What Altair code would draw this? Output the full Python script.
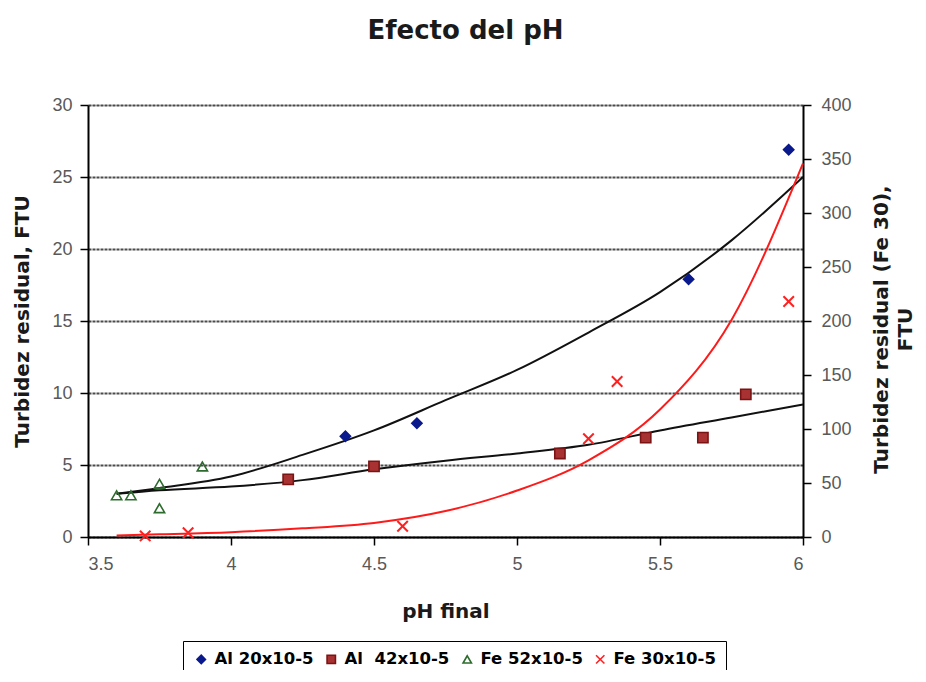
import altair as alt
import pandas as pd

# ---- data ----
series_names = ["Al 20x10-5", "Al\u00a0 42x10-5", "Fe 52x10-5", "Fe 30x10-5"]

al20_ph = [4.4, 4.65, 5.6, 5.95]
al20_val = [7.0, 7.9, 17.9, 26.9]

al42_ph = [4.2, 4.5, 5.15, 5.45, 5.65, 5.8]
al42_val = [4.0, 4.9, 5.8, 6.9, 6.9, 9.9]

fe52_ph = [3.6, 3.65, 3.75, 3.75, 3.9]
fe52_val = [2.9, 2.9, 3.7, 2.0, 4.9]

fe30_ph = [3.7, 3.85, 4.6, 5.25, 5.35, 5.95]
fe30_val = [1, 4, 10, 91, 144, 218]

# trend lines
trend_ph = [3.6, 3.75, 4.0, 4.25, 4.5, 4.75, 5.0, 5.25, 5.5, 5.75, 6.0]
trend_upper = [3.0, 3.4, 4.2, 5.7, 7.4, 9.5, 11.6, 14.2, 17.0, 20.6, 25.0]
trend_lower = [3.0, 3.25, 3.5, 3.95, 4.7, 5.3, 5.8, 6.4, 7.4, 8.3, 9.2]
trend_red = [1.5, 2.5, 4.5, 8, 13, 24, 43, 71, 118, 201, 346]

x_ticks = [3.5, 4, 4.5, 5, 5.5, 6]
left_ticks = [0, 5, 10, 15, 20, 25, 30]
right_ticks = [0, 50, 100, 150, 200, 250, 300, 350, 400]

# ---- tables ----
left_pts = pd.DataFrame({
    "ph": al20_ph + al42_ph + fe52_ph,
    "val": al20_val + al42_val + fe52_val,
    "series": [series_names[0]] * len(al20_ph)
    + [series_names[1]] * len(al42_ph)
    + [series_names[2]] * len(fe52_ph),
})
right_pts = pd.DataFrame({"ph": fe30_ph, "val": fe30_val,
                          "series": [series_names[3]] * len(fe30_ph)})
left_lines = pd.DataFrame({
    "ph": trend_ph + trend_ph,
    "val": trend_upper + trend_lower,
    "line": ["upper"] * len(trend_ph) + ["lower"] * len(trend_ph),
})
right_line = pd.DataFrame({"ph": trend_ph, "val": trend_red})

# ---- styles ----
LABEL_FONT = "Liberation Sans"
TITLE_FONT = "DejaVu Sans"

x_enc = alt.X(
    "ph:Q",
    scale=alt.Scale(domain=[3.5, 6], nice=False, zero=False),
    axis=alt.Axis(
        values=x_ticks, labelExpr="'' + datum.value", title="pH final",
        grid=False, domainColor="black", domainWidth=2,
        tickColor="black", tickWidth=1.5, tickSize=8, labelPadding=10,
        labelFont=LABEL_FONT, labelFontSize=18, labelColor="#595959",
        titleFont=TITLE_FONT, titleFontSize=20, titleFontWeight="bold",
        titleColor="#1a1a1a", titleY=80, titleBaseline="alphabetic",
    ),
)

left_axis = alt.Axis(
    orient="left", values=left_ticks, title="Turbidez residual, FTU",
    grid=True, gridColor="#4a4a4a", gridWidth=2, gridDash=[3, 1],
    domainColor="black", domainWidth=2, tickColor="black", tickWidth=1.5,
    tickSize=8, labelPadding=8, labelFont=LABEL_FONT, labelFontSize=18,
    labelColor="#595959", titleFont=TITLE_FONT, titleFontSize=20,
    titleFontWeight="bold", titleColor="#1a1a1a", titleAngle=270,
    titleX=-66, titleY=216, titleAlign="center", titleBaseline="middle",
)
right_axis = alt.Axis(
    orient="right", values=right_ticks,
    title=["Turbidez residual (Fe 30),", "FTU"],
    grid=False, domainColor="black", domainWidth=2, tickColor="black",
    tickWidth=1.5, tickSize=8, labelPadding=10, labelFont=LABEL_FONT,
    labelFontSize=18, labelColor="#595959", titleFont=TITLE_FONT,
    titleFontSize=20, titleFontWeight="bold", titleColor="#1a1a1a",
    titleAngle=270, titleX=78, titleY=224, titleAlign="center",
    titleBaseline="middle", titleLineHeight=24,
)

y_left = alt.Y("val:Q", scale=alt.Scale(domain=[0, 30], nice=False), axis=left_axis)
y_right = alt.Y("val:Q", scale=alt.Scale(domain=[0, 400], nice=False), axis=right_axis)

legend = alt.Legend(
    title=None, orient="none", legendX=95, legendY=536, direction="horizontal",
    columns=4, strokeColor="black", fillColor="white", padding=10,
    labelFont=TITLE_FONT, labelFontWeight="bold", labelFontSize=16.5,
    labelColor="black", symbolSize=70, symbolStrokeWidth=1.6,
    labelOffset=5, columnPadding=9,
)

shape_enc = alt.Shape("series:N", scale=alt.Scale(
    domain=series_names,
    range=["diamond", "square", "triangle-up", "M-1,-1L1,1M1,-1L-1,1"]), legend=legend)
fill_enc = alt.Fill("series:N", scale=alt.Scale(
    domain=series_names,
    range=["#0A1A8C", "#A83232", "transparent", "transparent"]), legend=legend)
stroke_enc = alt.Stroke("series:N", scale=alt.Scale(
    domain=series_names,
    range=["#0A1A8C", "#7A1414", "#2E6B2E", "#FF2020"]), legend=legend)

lines_l = alt.Chart(left_lines).mark_line(color="#111111", strokeWidth=2, interpolate="monotone").encode(
    x=x_enc, y=y_left, detail="line:N")
pts_l = alt.Chart(left_pts).mark_point(size=105, strokeWidth=1.6, opacity=1).encode(
    x=x_enc, y=y_left, shape=shape_enc, fill=fill_enc, stroke=stroke_enc)

line_r = alt.Chart(right_line).mark_line(color="#FF1A1A", strokeWidth=2, interpolate="monotone").encode(
    x=x_enc, y=y_right)
pts_r = alt.Chart(right_pts).mark_point(size=110, strokeWidth=2, opacity=1).encode(
    x=x_enc, y=y_right, shape=shape_enc, fill=fill_enc, stroke=stroke_enc)

left = alt.layer(lines_l, pts_l)
right = alt.layer(line_r, pts_r)

chart = alt.layer(left, right).resolve_scale(y="independent").properties(
    width=715, height=432,
    title=alt.TitleParams("Efecto del pH", font=TITLE_FONT, fontSize=26,
                          fontWeight="bold", color="#1a1a1a", anchor="middle",
                          frame="group", dx=20, offset=52),
    autosize=alt.AutoSizeParams(type="none"),
    padding={"left": 80, "top": 97, "right": 115, "bottom": 133},
).configure_view(stroke=None).configure(background="white")

chart.save("out.html", embed_options={"renderer": "svg", "actions": False})
